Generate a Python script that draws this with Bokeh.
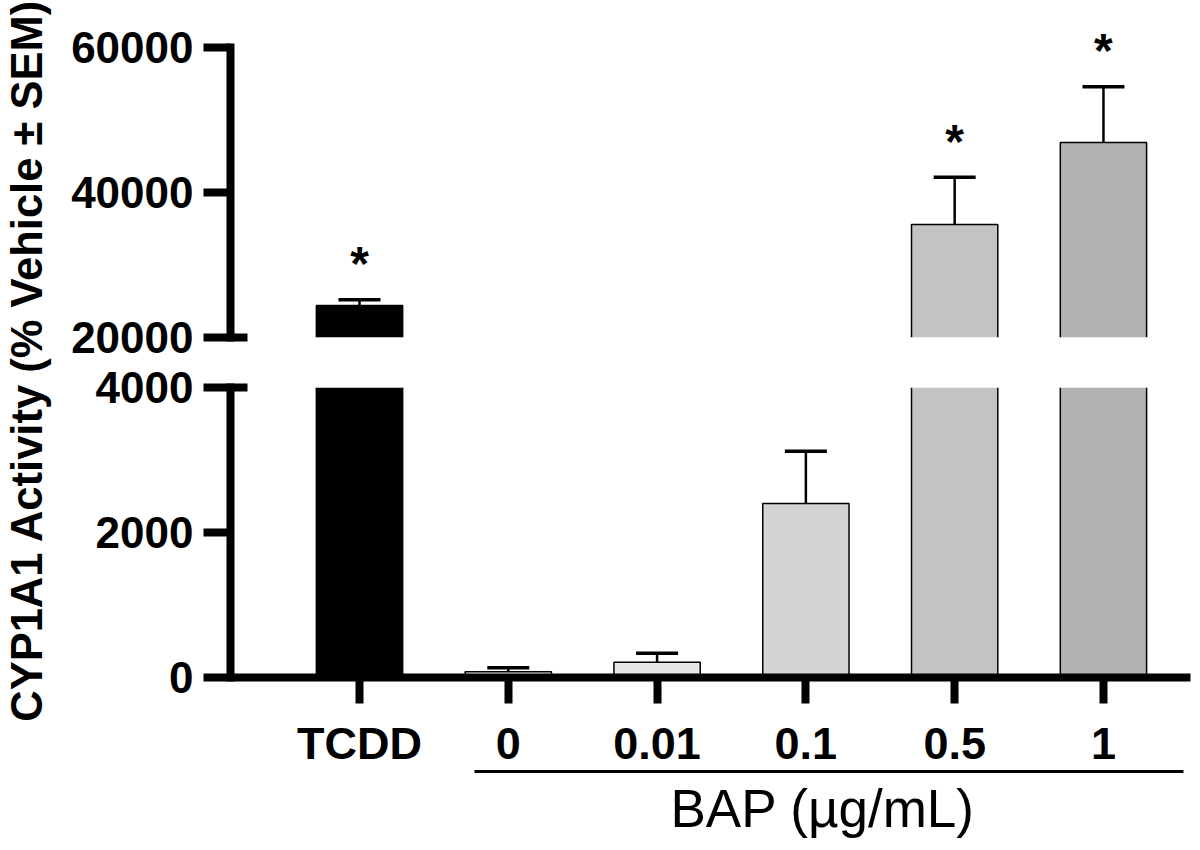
from bokeh.plotting import figure
from bokeh.models import Range1d, FixedTicker, LinearAxis, Whisker, ColumnDataSource, TeeHead, Title
from bokeh.layouts import row, column
from bokeh.embed import file_html
from bokeh.resources import INLINE
from bokeh.core.properties import value

# ---- data ----
categories = ["TCDD", "0", "0.01", "0.1", "0.5", "1"]
means = [24400, 80, 210, 2400, 35600, 46900]
sems = [800, 55, 125, 720, 6500, 7700]
significance = ["*", "", "", "", "*", "*"]
bar_colors = ["#000000", "#f0f0f0", "#e6e6e6", "#d4d4d4", "#c3c3c3", "#b2b2b2"]
upper_ticks = [20000, 40000, 60000]
lower_ticks = [0, 2000, 4000]
upper_tick_labels = ["20000", "40000", "60000"]
lower_tick_labels = ["0", "2000", "4000"]
group_label = "BAP (\u00b5g/mL)"
y_title = "CYP1A1 Activity (% Vehicle \u00b1 SEM)"

xs = list(range(len(categories)))
uppers = [m + s for m, s in zip(means, sems)]
BAR_W = 0.58

UPPER_RANGE = (20000, 64000)
LOWER_RANGE = (0, 4000)

FONT = "Liberation Sans"

x_range = Range1d(-0.867, 5.585)


def segment_sources(lo, hi, y_start):
    """Bars of one segment of the broken axis: fill rectangles cut at the
    segment's limits, and outlines without the edges at a cut."""
    fx, fb, ft, fc = [], [], [], []
    oxs, oys = [], []
    for i in xs:
        m = means[i]
        if m <= lo:
            continue
        b = max(y_start, lo)
        t = min(m, hi)
        fx.append(xs[i]); fb.append(b); ft.append(t); fc.append(bar_colors[i])
        l, r = xs[i] - BAR_W / 2, xs[i] + BAR_W / 2
        if m > hi:
            oxs += [[l, l], [r, r]]
            oys += [[b, t], [b, t]]
        else:
            oxs.append([l, l, r, r])
            oys.append([b, t, t, b])
    fill = ColumnDataSource(dict(x=fx, bottom=fb, top=ft, color=fc))
    outline = ColumnDataSource(dict(xs=oxs, ys=oys))
    idx = [i for i in xs if lo < means[i] < hi]
    whisk = ColumnDataSource(dict(
        x=[xs[i] for i in idx], mean=[means[i] for i in idx],
        upper=[uppers[i] for i in idx], sig=[significance[i] for i in idx]))
    return fill, outline, whisk


def style_yaxis(ax, ticks, labels, break_tick, bounds):
    ax.ticker = FixedTicker(ticks=ticks, minor_ticks=[break_tick])
    ax.major_label_overrides = {t: l for t, l in zip(ticks, labels)}
    ax.bounds = bounds
    ax.axis_line_width = 8
    ax.axis_line_cap = "square"
    ax.major_tick_line_width = 8
    ax.major_tick_out = 27
    ax.major_tick_in = 0
    ax.minor_tick_line_width = 8
    ax.minor_tick_in = 17
    ax.minor_tick_out = 0
    ax.major_label_standoff = 10
    ax.major_label_text_font = FONT
    ax.major_label_text_font_style = "bold"
    ax.major_label_text_font_size = "44px"
    ax.major_label_text_color = "black"
    ax.axis_line_color = "black"


def add_bars(p, lo, hi):
    fill, outline, whisk = segment_sources(lo, hi, 0)
    p.vbar(x="x", bottom="bottom", top="top", width=BAR_W, source=fill,
           fill_color="color", line_color=None)
    p.multi_line(xs="xs", ys="ys", source=outline, line_color="black", line_width=1.5)
    w = Whisker(source=whisk, base="x", upper="upper", lower="mean",
                dimension="height", line_width=2.5, line_color="black",
                upper_head=TeeHead(size=42, line_width=3.5, line_color="black"),
                lower_head=None, level="overlay")
    p.add_layout(w)
    p.text(x="x", y="upper", text="sig", source=whisk, text_align="center",
           text_baseline="alphabetic", y_offset=-36, text_font=value(FONT),
           text_font_style="bold", text_font_size="48px", text_color="black")


# ---- upper segment (frame from y=18 to y=337 of the page) ----
upper = figure(width=1145, height=362, x_range=x_range, y_range=Range1d(*UPPER_RANGE),
               x_axis_location=None, toolbar_location=None, output_backend="svg",
               min_border_left=175, min_border_right=10, min_border_top=18, min_border_bottom=25)
add_bars(upper, upper_ticks[0], UPPER_RANGE[1])
style_yaxis(upper.yaxis[0], upper_ticks, upper_tick_labels, upper_ticks[0],
            (upper_ticks[0], upper_ticks[-1]))

# ---- lower segment (frame from y=387 to y=677 of the page) ----
lower = figure(width=1145, height=488, x_range=x_range, y_range=Range1d(*LOWER_RANGE),
               toolbar_location=None, output_backend="svg",
               min_border_left=175, min_border_right=10, min_border_top=25, min_border_bottom=173)
add_bars(lower, LOWER_RANGE[0] - 1, lower_ticks[-1])
style_yaxis(lower.yaxis[0], lower_ticks, lower_tick_labels, lower_ticks[-1],
            (lower_ticks[0], lower_ticks[-1]))

xa = lower.xaxis[0]
xa.ticker = FixedTicker(ticks=xs, minor_ticks=[])
xa.major_label_overrides = {x: c for x, c in zip(xs, categories)}
xa.axis_line_width = 8
xa.axis_line_color = "black"
xa.major_tick_line_width = 8
xa.major_tick_out = 26
xa.major_tick_in = 0
xa.major_label_standoff = 14
xa.major_label_text_font = FONT
xa.major_label_text_font_style = "bold"
xa.major_label_text_font_size = "45px"
xa.major_label_text_color = "black"

group_bounds = (xs[1] - 0.23, xs[-1] + 0.54)
group_axis = LinearAxis(ticker=FixedTicker(ticks=[], minor_ticks=[]),
                        bounds=group_bounds,
                        axis_line_width=3, axis_line_color="black",
                        major_tick_out=0, major_tick_in=0, minor_tick_out=0, minor_tick_in=0,
                        major_label_text_font_size="0px")
lower.add_layout(group_axis, "below")

# group caption, centred under the group's line (left edge offset from frame, px)
frame_px = 960
px_per_unit = frame_px / (x_range.end - x_range.start)
group_mid = (group_bounds[0] + group_bounds[1]) / 2 - 0.05
caption_half_width = 151
group_title = Title(text=group_label, align="left",
                    offset=(group_mid - x_range.start) * px_per_unit - caption_half_width,
                    text_font=FONT, text_font_style="normal", text_font_size="53px",
                    text_color="black", standoff=10)
lower.add_layout(group_title, "below")

for p in (upper, lower):
    p.grid.visible = False
    p.outline_line_color = None
    p.background_fill_color = "white"
    p.border_fill_color = "white"

# ---- y-axis title panel ----
tfig = figure(width=55, height=850, title=y_title, title_location="left",
              x_axis_location=None, y_axis_location=None, toolbar_location=None,
              output_backend="svg", min_border_left=0, min_border_right=0,
              min_border_top=0, min_border_bottom=130)
tfig.title.text_font = FONT
tfig.title.text_font_style = "bold"
tfig.title.text_font_size = "43.5px"
tfig.title.align = "center"
tfig.title.text_color = "black"
tfig.title.standoff = 9
tfig.outline_line_color = None
tfig.grid.visible = False
tfig.scatter([0], [0], alpha=0)

layout = row(tfig, column(upper, lower))
open("out.html", "w").write(file_html(layout, INLINE))
